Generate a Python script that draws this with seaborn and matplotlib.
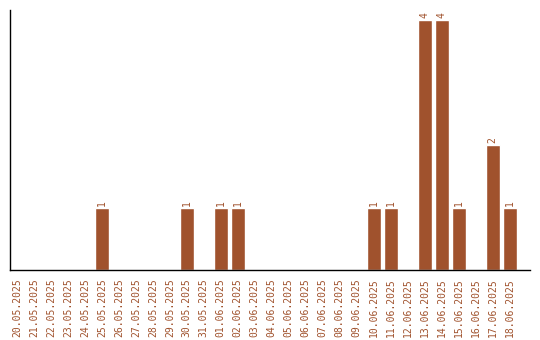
import matplotlib
matplotlib.use("Agg")
import matplotlib.pyplot as plt
import seaborn as sns
import pandas as pd

dates = ["20.05.2025", "21.05.2025", "22.05.2025", "23.05.2025", "24.05.2025",
         "25.05.2025", "26.05.2025", "27.05.2025", "28.05.2025", "29.05.2025",
         "30.05.2025", "31.05.2025", "01.06.2025", "02.06.2025", "03.06.2025",
         "04.06.2025", "05.06.2025", "06.06.2025", "07.06.2025", "08.06.2025",
         "09.06.2025", "10.06.2025", "11.06.2025", "12.06.2025", "13.06.2025",
         "14.06.2025", "15.06.2025", "16.06.2025", "17.06.2025", "18.06.2025"]
counts = [0, 0, 0, 0, 0, 1, 0, 0, 0, 0, 1, 0, 1, 1, 0, 0, 0, 0, 0, 0,
          0, 1, 1, 0, 4, 4, 1, 0, 2, 1]

color = "#A0522D"
sns.set_style("white")
plt.rcParams['font.family'] = ['DejaVu Sans Mono', 'DejaVu Sans']

df = pd.DataFrame({"date": dates, "count": counts})
fig = plt.figure(figsize=(5.4, 3.4), dpi=100)
ax = fig.add_axes([10/540, 70/340, 520/540, 260/340])
sns.barplot(data=df, x="date", y="count", color=color, saturation=1, width=0.82, ax=ax)

for i, v in enumerate(counts):
    if v > 0:
        ax.text(i, v + 0.03, str(v), rotation=90, ha="center", va="bottom",
                fontsize=7, color=color)

ax.set_xlim(-0.41, 30.2)
ax.set_ylim(0, 4.16)
ax.set_yticks([])
ax.set_xlabel("")
ax.set_ylabel("")
ax.tick_params(axis="x", rotation=90, labelsize=7, labelcolor=color, length=0, pad=6)
for s in ["top", "right"]:
    ax.spines[s].set_visible(False)
for s in ["left", "bottom"]:
    ax.spines[s].set_color("black")
    ax.spines[s].set_linewidth(1)

fig.savefig("out.png", dpi=100)
